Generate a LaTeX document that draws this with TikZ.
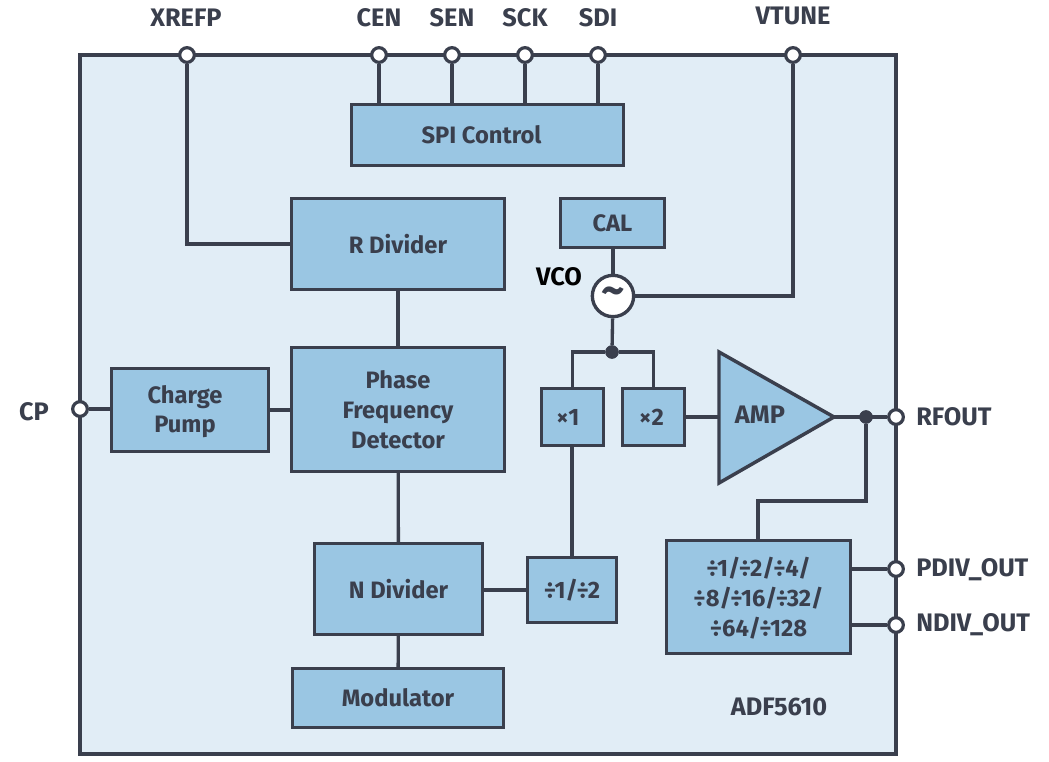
\documentclass[tikz,border=0pt]{standalone}
\usepackage{fontspec}
\setmainfont[BoldFont={Fira Sans Bold}]{Fira Sans}
\definecolor{ink}{HTML}{3A3F4D}
\definecolor{blk}{HTML}{9AC6E3}
\definecolor{bg}{HTML}{E1EDF6}
\tikzset{
  blockbox/.style={draw=ink,fill=blk,line width=2.6pt,align=center,inner sep=0pt,text=ink,font=\fontsize{17.8}{22.3}\selectfont\bfseries},
  wire/.style={draw=ink,line width=2.5pt,line join=miter},
  pin/.style={circle,draw=ink,fill=white,line width=2.4pt,minimum size=11pt,inner sep=0pt},
  dotj/.style={circle,fill=ink,minimum size=10pt,inner sep=0pt},
  lbl/.style={text=ink,font=\fontsize{19}{20}\selectfont\bfseries,inner sep=0pt},
}
\newcommand{\blockat}[6]{%
  \pgfmathsetmacro{\bw}{(#4-#2)*0.75-1}%
  \pgfmathsetmacro{\bh}{(#5-#3)*0.75-1}%
  \node[blockbox,minimum width=\bw pt,minimum height=\bh pt] (#1) at ({(#2+#4)/2},{-(#3+#5)/2}) {#6};}
\begin{document}
\begin{tikzpicture}[x=0.75pt,y=0.75pt]
\useasboundingbox (0,0) rectangle (1049,-761);
\draw[ink,fill=bg,line width=2.5pt] (80,-55) rectangle (896,-754);
% pins
\node[pin] (xrefp) at (187,-55) {};
\node[pin] (cen) at (379,-55) {};
\node[pin] (sen) at (452,-55) {};
\node[pin] (sck) at (525,-55) {};
\node[pin] (sdi) at (598,-55) {};
\node[pin] (vtune) at (793,-55) {};
\node[pin] (cp) at (80,-409) {};
\node[pin] (rfout) at (896,-417) {};
\node[pin] (pdiv) at (896,-569) {};
\node[pin] (ndiv) at (896,-625) {};
% pin labels
\node[lbl] at (186,-18) {XREFP};
\node[lbl] at (379,-18) {CEN};
\node[lbl] at (452,-18) {SEN};
\node[lbl] at (525,-18) {SCK};
\node[lbl] at (598,-18) {SDI};
\node[lbl] at (793,-16) {VTUNE};
\node[lbl] at (34,-412) {CP};
\node[lbl,anchor=west] at (916,-417) {RFOUT};
\node[lbl,anchor=west] at (916,-570) {PDIV\_OUT};
\node[lbl,anchor=west] at (916,-625) {NDIV\_OUT};
% blocks
\blockat{spi}{351}{104}{624}{166}{SPI Control\kern9pt}
\blockat{rdiv}{291}{198}{505}{290}{R Divider}
\blockat{pfd}{291}{347}{505}{472}{Phase\\Frequency\\Detector}
\blockat{pump}{111}{368}{269}{452}{\rule{0pt}{16pt}Charge\kern7.5pt\\Pump\kern7.5pt}
\blockat{cal}{560}{198}{665}{248}{CAL}
\blockat{xone}{541}{388}{604}{446}{×1\kern7pt}
\blockat{xtwo}{622}{388}{685}{446}{×2\kern3pt}
\blockat{ndivb}{314}{543}{483}{635}{N Divider}
\blockat{odiv}{527}{557}{617}{623}{÷1/÷2}
\blockat{mdiv}{666}{540}{851}{654}{\rule{0pt}{16pt}÷1/÷2/÷4/\\÷8/÷16/÷32/\\÷64/÷128}
\blockat{mod}{292}{668}{504}{728}{Modulator}
% VCO
\node[circle,draw=ink,fill=white,line width=2.5pt,minimum size=31pt,inner sep=0pt,text=ink,font=\fontsize{34}{34}\selectfont\bfseries] (vco) at (613,-296) {\char"7E};
\node[text=black,font=\fontsize{19}{20}\selectfont\bfseries,inner sep=0pt] at (559,-277) {VCO};
\node[dotj] (j1) at (612,-352) {};
\node[dotj] (j2) at (866,-417) {};
% AMP
\coordinate (ampin) at (719,-417);
\coordinate (ampout) at (834,-417);
\draw[ink,fill=blk,line width=2.6pt,line join=miter] (719,-352) -- (834,-417) -- (719,-483) -- cycle;
\node[lbl] (amp) at (760,-415) {AMP};
\node[lbl] at (779,-707) {ADF5610};
% connectors
\draw[wire] (xrefp) |- (rdiv.west);
\foreach \p in {cen,sen,sck,sdi} \draw[wire] (\p) -- (\p |- spi.north);
\draw[wire] (vtune) |- (vco.east);
\draw[wire] (rdiv) -- (pfd);
\draw[wire] (pfd) -- (ndivb);
\draw[wire] (ndivb) -- (mod);
\draw[wire] (pump.east) -- (pfd.west |- pump.east);
\draw[wire] (cp) -- (cp -| pump.west);
\draw[wire] (cal.south -| vco) -- (vco);
\draw[wire] (vco) -- (j1);
\draw[wire] (xone.north) |- (j1);
\draw[wire] (xtwo.north) |- (j1);
\draw[wire] (xtwo.east |- ampin) -- (ampin);
\draw[wire] (ampout) -- (rfout);
\draw[wire] (j2) |- (758,-501) -- (758,-540);
\draw[wire] (xone.south -| odiv.north) -- (odiv.north);
\draw[wire] (ndivb.east |- odiv) -- (odiv.west);
\draw[wire] (mdiv.east |- pdiv) -- (pdiv);
\draw[wire] (mdiv.east |- ndiv) -- (ndiv);
\node[dotj] at (j1) {};
\node[dotj] at (j2) {};
\end{tikzpicture}
\end{document}
